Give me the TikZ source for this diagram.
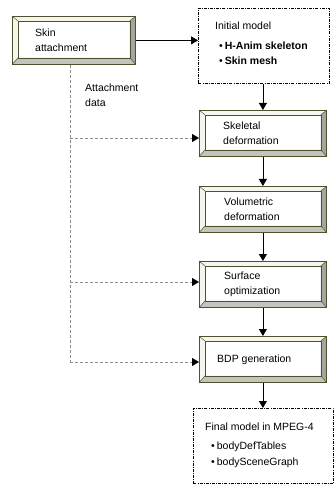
\documentclass[tikz,border=0pt]{standalone}
\usepackage{fontspec}
\setmainfont{Liberation Sans}
\usetikzlibrary{arrows.meta,calc}

\definecolor{bevelrim}{RGB}{80,80,45}
\definecolor{bevellight}{RGB}{246,246,238}
\definecolor{bevelside}{RGB}{165,165,160}
\definecolor{bevelbase}{RGB}{196,196,190}
\definecolor{dataline}{RGB}{140,140,140}

\tikzset{
  stage/.style={draw=bevelrim, line width=0.8pt, fill=white, rectangle,
    inner sep=0pt, anchor=north west},
  caption/.style={font=\fontsize{10.5}{15}\selectfont, align=left,
    inner sep=0pt, anchor=west},
  lineitem/.style={font=\fontsize{10.5}{15}\selectfont, inner sep=0pt,
    anchor=west, text height=7.5pt, text depth=2pt},
  modelbox/.style={draw=black, line width=0.6pt,
    dash pattern=on 3pt off 1.2pt on 0.8pt off 1.2pt, rectangle,
    inner sep=0pt, anchor=north west},
  flow/.style={draw=black, line width=0.8pt,
    -{Triangle[length=7pt,width=8pt]}},
  datalink/.style={draw=dataline, line width=0.8pt, dash pattern=on 3pt off 2pt},
  dataarrow/.style={datalink,
    -{Triangle[length=7pt,width=8pt,color=black,fill=black]}},
}

% raised frame drawn over a named stage node
\newcommand\bevelframe[1]{%
  \fill[bevellight] (#1.north west) -- (#1.north east)
    -- ([shift={(-6pt,-5pt)}]#1.north east) -- ([shift={(6pt,-5pt)}]#1.north west) -- cycle;
  \fill[bevellight] (#1.north west) -- ([shift={(6pt,-5pt)}]#1.north west)
    -- ([shift={(6pt,7pt)}]#1.south west) -- (#1.south west) -- cycle;
  \fill[bevelside] (#1.north east) -- (#1.south east)
    -- ([shift={(-6pt,7pt)}]#1.south east) -- ([shift={(-6pt,-5pt)}]#1.north east) -- cycle;
  \fill[bevelbase] (#1.south west) -- ([shift={(6pt,7pt)}]#1.south west)
    -- ([shift={(-6pt,7pt)}]#1.south east) -- (#1.south east) -- cycle;
  \draw[bevelrim, line width=0.5pt]
    ([shift={(6pt,-5pt)}]#1.north west) rectangle ([shift={(-6pt,7pt)}]#1.south east);
  \draw[bevelrim, line width=0.5pt]
    (#1.north west) -- ([shift={(6pt,-5pt)}]#1.north west)
    (#1.north east) -- ([shift={(-6pt,-5pt)}]#1.north east)
    (#1.south west) -- ([shift={(6pt,7pt)}]#1.south west)
    (#1.south east) -- ([shift={(-6pt,7pt)}]#1.south east);
  \draw[bevelrim, line width=0.8pt] (#1.north west) rectangle (#1.south east);
}

\begin{document}
\begin{tikzpicture}[x=1pt, y=-1pt]
  \useasboundingbox (0,0) rectangle (334,486);

  % processing stages
  \node[stage, minimum width=123pt, minimum height=48pt] (skin) at (12,16) {};
  \node[stage, minimum width=127pt, minimum height=46pt] (skel) at (199,110) {};
  \node[stage, minimum width=127pt, minimum height=46pt] (vol)  at (199,186) {};
  \node[stage, minimum width=127pt, minimum height=46pt] (surf) at (199,261) {};
  \node[stage, minimum width=127pt, minimum height=46pt] (bdp)  at (199,336) {};
  \bevelframe{skin}
  \bevelframe{skel}
  \bevelframe{vol}
  \bevelframe{surf}
  \bevelframe{bdp}

  \node[caption] (skintxt) at ([xshift=23pt]skin.west) {Skin\\attachment};
  \node[caption] (skeltxt) at ([xshift=24pt]skel.west) {Skeletal\\deformation};
  \node[caption] (voltxt)  at ([xshift=25pt]vol.west)  {Volumetric\\deformation};
  \node[caption] (surftxt) at ([xshift=25pt]surf.west) {Surface\\optimization};
  \node[caption] (bdptxt)  at ([xshift=18pt]bdp.west)  {BDP generation};

  % model descriptions
  \node[modelbox, minimum width=131pt, minimum height=75pt] (init)  at (198,8) {};
  \node[modelbox, minimum width=140pt, minimum height=75pt] (final) at (193,408) {};

  \node[lineitem] (init1) at (215,27) {Initial model};
  \node[lineitem] (init2) at (219,47) {\textbullet\hspace{2pt}\textbf{H-Anim skeleton}};
  \node[lineitem] (init3) at (219,62) {\textbullet\hspace{2pt}\textbf{Skin mesh}};

  \node[lineitem] (final1) at (205,428) {Final model in MPEG-4};
  \node[lineitem] (final2) at (211,447) {\textbullet\hspace{2pt}bodyDefTables};
  \node[lineitem] (final3) at (211,463) {\textbullet\hspace{2pt}bodySceneGraph};

  % attachment data distribution
  \node[caption] (attach) at (85,95.5) {Attachment\\data};
  \coordinate (j1) at (70,138);
  \coordinate (j2) at (70,282);
  \coordinate (j3) at (70,362);
  \draw[datalink] (skin.south -| j1) -- (j3);
  \draw[dataarrow] (j1) -- (j1 -| skel.west);
  \draw[dataarrow] (j2) -- (j2 -| surf.west);
  \draw[dataarrow] (j3) -- (j3 -| bdp.west);

  % main flow
  \draw[flow] (skin.east) -- (skin.east -| init.west);
  \draw[flow] (init.south -| skel.north) -- (skel.north);
  \draw[flow] (skel.south) -- (vol.north);
  \draw[flow] (vol.south) -- (surf.north);
  \draw[flow] (surf.south) -- (bdp.north);
  \draw[flow] (bdp.south) -- (bdp.south |- final.north);
\end{tikzpicture}
\end{document}
